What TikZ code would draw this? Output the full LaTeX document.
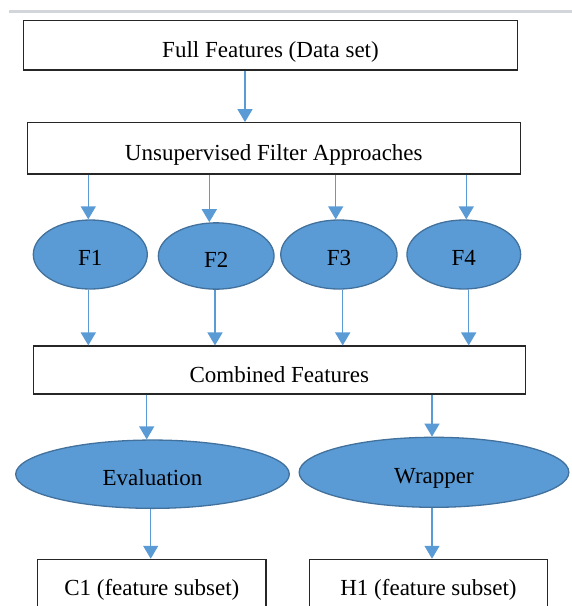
\documentclass[tikz,border=0pt]{standalone}
\usepackage{fontspec}
\setmainfont{Liberation Serif}
\usepackage{xcolor}
\usepackage{tikz}
\usetikzlibrary{positioning,arrows.meta,shapes.geometric}

\definecolor{officeblue}{HTML}{5B9BD5}
\definecolor{officeedge}{HTML}{41719C}
\definecolor{rulegray}{HTML}{D2D5DA}

\begin{document}
\begin{tikzpicture}[x=1pt,y=-1pt,
  every node/.style={font=\fontsize{23}{27}\selectfont, inner sep=0pt, text depth=0pt},
  stagebox/.style={draw=black!85, line width=1.1pt, fill=white, text height=24pt},
  filterblob/.style={ellipse, draw=officeedge, line width=1.3pt, fill=officeblue, text height=22pt},
  arr/.style={draw=officeblue, line width=1.4pt, -{Triangle[width=15pt,length=13pt]}}]
\useasboundingbox (0,0) rectangle (572,606);
\clip (0,0) rectangle (572,606);
% page rule
\fill[rulegray] (9,10) rectangle (572,13.3);
% stages
\node[stagebox, minimum width=494.4pt, minimum height=49.3pt] (full) at (270.5,45.3) {Full Features (Data set)};
\node[stagebox, minimum width=493pt, minimum height=51.3pt] (unsup) at (273.8,148.3) {Unsupervised Filter Approaches};
\foreach \n/\x/\y/\w/\h in {1/90.3/254.5/114/69, 2/216.2/256/115.7/66.3, 3/338.9/254.5/116.3/69, 4/463.8/254.5/113.7/69}{
  \node[filterblob, minimum width=\w pt, minimum height=\h pt] (f\n) at (\x,\y) {F\n};
}
\node[stagebox, minimum width=492pt, minimum height=48pt] (comb) at (279.3,370) {Combined Features};
\node[filterblob, minimum width=273.6pt, minimum height=68.3pt] (eval) at (152.5,474.2) {Evaluation};
\node[filterblob, minimum width=269.7pt, minimum height=70pt] (wrap) at (434,472.3) {Wrapper};
\node[stagebox, minimum width=228.3pt, minimum height=48pt] (cset) at (151.8,583.3) {C1 (feature subset)};
\node[stagebox, minimum width=238.4pt, minimum height=48pt] (hset) at (428.5,583.3) {H1 (feature subset)};
% connectors
\draw[arr] ([xshift=-25.5pt]full.south) -- ([xshift=-28.8pt]unsup.north);
\foreach \n/\a/\b in {1/-2/-2, 2/-6.9/-1.2, 3/-3.2/3.8, 4/2.5/4.9}{
  \path ([xshift=\a pt]f\n.north) coordinate (fin) ([xshift=\b pt]f\n.south) coordinate (fout);
  \draw[arr] (fin |- unsup.south) -- (fin);
  \draw[arr] (fout) -- (fout |- comb.north);
}
\path ([xshift=-5.8pt]eval.north) coordinate (ein) ([xshift=-1.8pt]eval.south) coordinate (eout);
\draw[arr] (ein |- comb.south) -- (ein);
\draw[arr] (eout) -- (eout |- cset.north);
\path ([xshift=-2pt]wrap.north) coordinate (win) ([xshift=-2pt]wrap.south) coordinate (wout);
\draw[arr] (win |- comb.south) -- (win);
\draw[arr] (wout) -- (wout |- hset.north);
\end{tikzpicture}
\end{document}
